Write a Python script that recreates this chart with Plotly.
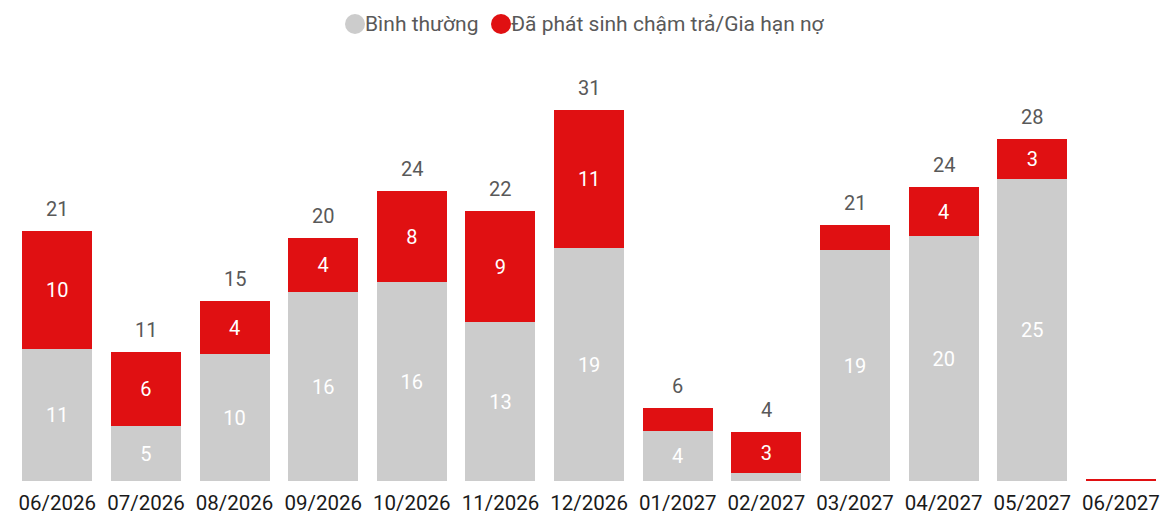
import plotly.graph_objects as go

months = ["06/2026", "07/2026", "08/2026", "09/2026", "10/2026", "11/2026", "12/2026",
          "01/2027", "02/2027", "03/2027", "04/2027", "05/2027", "06/2027"]
normal = [10.88, 4.52, 10.47, 15.60, 16.42, 13.12, 19.23, 4.11, 0.64, 19.07, 20.22, 24.93, 0.0]
late = [9.75, 6.12, 4.38, 4.46, 7.52, 9.17, 11.45, 1.90, 3.39, 2.07, 4.05, 3.31, 0.12]
series_names = ["Bình thường", "Đã phát sinh chậm trả/Gia hạn nợ"]

GRAY = "#CCCCCC"
RED = "#E01012"
FONT = "Roboto"


def rnd(v):
    return int(v + 0.5)


def seg_labels(vals):
    return [str(rnd(v)) if v >= 2.5 else "" for v in vals]


totals = [a + b for a, b in zip(normal, late)]

fig = go.Figure()
fig.add_trace(go.Bar(
    x=months, y=normal, name=series_names[0], marker=dict(color=GRAY, line=dict(width=0)),
    text=seg_labels(normal), textposition="inside", insidetextanchor="middle",
    textangle=0, textfont=dict(color="white", size=20, family=FONT),
    showlegend=False, hoverinfo="x+y"))
fig.add_trace(go.Bar(
    x=months, y=late, name=series_names[1], marker=dict(color=RED, line=dict(width=0)),
    text=seg_labels(late), textposition="inside", insidetextanchor="middle",
    textangle=0, textfont=dict(color="white", size=20, family=FONT),
    showlegend=False, hoverinfo="x+y"))

# totals above bars
for m, t in zip(months, totals):
    if t >= 2.5:
        fig.add_annotation(x=m, y=t, text=str(rnd(t)), showarrow=False,
                           yanchor="middle", yshift=22,
                           font=dict(size=20, color="#595959", family=FONT))

W, H = 1163, 512
mt, mb, ml, mr = 40, 31, 13, 0
plot_h = H - mt - mb
plot_w = W - ml - mr
scale = 12.1
ytop = plot_h / scale


def px_to_paper_x(px):
    return (px - ml) / plot_w


def px_to_paper_y(py):
    return (H - mb - py) / plot_h


# manual legend
leg_y = 24
legend_items = [(355, 367, GRAY, series_names[0]), (501, 513, RED, series_names[1])]
for cx, tx, col, name in legend_items:
    fig.add_shape(type="circle", xref="paper", yref="paper",
                  xsizemode="pixel", ysizemode="pixel",
                  xanchor=px_to_paper_x(cx), yanchor=px_to_paper_y(leg_y),
                  x0=-10, x1=10, y0=-10, y1=10,
                  fillcolor=col, line=dict(width=0))
    fig.add_annotation(xref="paper", yref="paper", x=px_to_paper_x(tx - 4),
                       y=px_to_paper_y(leg_y), text=name, showarrow=False,
                       xanchor="left", yanchor="middle",
                       font=dict(size=21, color="#595959", family=FONT))

fig.update_layout(
    width=W, height=H,
    margin=dict(l=ml, r=mr, t=mt, b=mb, autoexpand=False),
    barmode="stack", bargap=0.21,
    plot_bgcolor="white", paper_bgcolor="white",
    showlegend=False,
    font=dict(family=FONT),
    uniformtext=dict(minsize=20, mode="show"),
)
fig.update_xaxes(range=[-0.5, 12.475], showgrid=False, showline=False, zeroline=False,
                 ticks="outside", ticklen=3, tickcolor="rgba(0,0,0,0)",
                 tickfont=dict(size=20.5, color="#1a1a1a", family=FONT),
                 automargin=False, fixedrange=True)
fig.update_yaxes(range=[0, ytop], visible=False, showgrid=False, zeroline=False,
                 fixedrange=True)

fig.write_html("out.html", config={"displayModeBar": False},
               post_script="document.body.style.margin='0';document.body.style.overflow='hidden';")
